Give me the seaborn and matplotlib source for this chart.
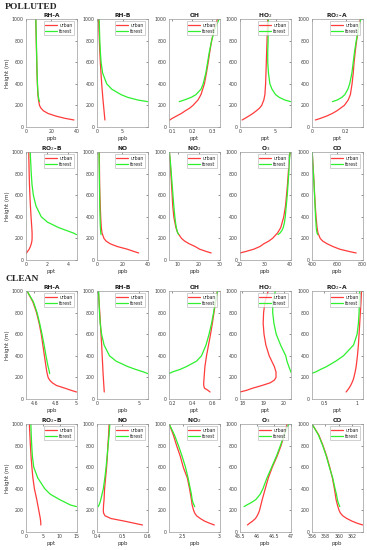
import matplotlib
matplotlib.use("Agg")
import matplotlib.pyplot as plt
import seaborn as sns

sns.set_style("white")
plt.rcParams["font.family"] = ["DejaVu Sans"]

RED = "#ff3b3b"
GREEN = "#2ef02e"
EDGE = "#9a9a9a"

# heights (m) of the two profiles
H_URBAN = [65, 80, 100, 125, 150, 175, 200, 250, 300, 400, 500, 600, 700, 800, 900, 1000]
H_FOREST = [235, 250, 275, 300, 350, 400, 500, 600, 700, 800, 900, 1000]

TITLES = ["RH-A", "RH-B", "OH", "HO$_2$", "RO$_2$-A",
          "RO$_2$-B", "NO", "NO$_2$", "O$_3$", "CO"]
UNITS = ["ppb", "ppb", "ppt", "ppt", "ppt",
         "ppt", "ppb", "ppb", "ppb", "ppb"]

# ---- polluted case ----
pol_urban = [
    [38, 31, 24, 17.5, 13.8, 11.8, 10.7, 9.9, 9.4, 9.0, 8.7, 8.5, 8.3, 8.1, 7.9, 7.7],
    [1.55, 1.52, 1.48, 1.43, 1.38, 1.33, 1.28, 1.18, 1.09, 0.92, 0.78, 0.65, 0.55, 0.46, 0.38, 0.32],
    [0.088, 0.10, 0.12, 0.145, 0.165, 0.187, 0.203, 0.228, 0.243, 0.26, 0.27, 0.279, 0.287, 0.296, 0.308, 0.325],
    [0.3, 0.7, 1.2, 1.8, 2.3, 2.75, 3.05, 3.35, 3.5, 3.6, 3.65, 3.7, 3.75, 3.8, 3.85, 3.9],
    [0.02, 0.05, 0.085, 0.12, 0.148, 0.17, 0.192, 0.215, 0.228, 0.238, 0.245, 0.25, 0.257, 0.265, 0.275, 0.287],
    [0.05, 0.15, 0.3, 0.42, 0.5, 0.56, 0.58, 0.58, 0.55, 0.48, 0.42, 0.37, 0.33, 0.3, 0.28, 0.26],
    [33, 29, 24, 16, 10.5, 7.2, 5.5, 4.0, 3.4, 2.9, 2.6, 2.3, 2.1, 2.0, 1.9, 1.8],
    [26, 23.5, 20.5, 18.3, 15.5, 13.3, 11.8, 10.0, 9.1, 8.1, 7.6, 7.3, 7.0, 6.7, 6.4, 6.0],
    [20, 22.5, 25.5, 28, 29.5, 31.5, 33, 35, 36.3, 37.5, 38.2, 38.6, 39, 39.3, 39.6, 40],
    [750, 690, 620, 565, 520, 485, 465, 447, 440, 432, 426, 421, 417, 412, 407, 402],
]
pol_forest = [
    [10.8, 10.3, 9.9, 9.6, 9.3, 9.1, 8.8, 8.6, 8.4, 8.2, 8.0, 7.8],
    [9.9, 8.0, 6.0, 4.7, 2.9, 1.9, 1.1, 0.8, 0.65, 0.55, 0.48, 0.42],
    [0.135, 0.16, 0.195, 0.218, 0.243, 0.254, 0.267, 0.276, 0.285, 0.296, 0.31, 0.333],
    [7.1, 6.3, 5.5, 5.0, 4.5, 4.2, 4.0, 3.9, 3.9, 3.95, 3.97, 4.0],
    [0.122, 0.15, 0.178, 0.195, 0.213, 0.224, 0.237, 0.245, 0.253, 0.263, 0.275, 0.29],
    [4.8, 4.5, 3.8, 3.1, 2.05, 1.45, 0.95, 0.7, 0.57, 0.5, 0.45, 0.4],
    [3.2, 3.0, 2.8, 2.7, 2.5, 2.4, 2.2, 2.1, 1.95, 1.85, 1.7, 1.6],
    [10.5, 10.0, 9.6, 9.3, 8.9, 8.6, 8.1, 7.7, 7.3, 6.9, 6.5, 6.0],
    [35.2, 36, 36.8, 37.3, 37.8, 38.1, 38.5, 38.9, 39.2, 39.5, 39.7, 40],
    [445, 440, 436, 434, 431, 428, 424, 420, 416, 411, 406, 402],
]
pol_xlim = [(0, 40), (0, 9.9), (0.084, 0.335), (0, 7.1), (0, 0.3),
            (0, 4.8), (0, 40), (5.8, 30), (20, 40.2), (400, 800)]
pol_xticks = [[0, 20, 40], [0, 5], [0.1, 0.2, 0.3], [0, 5], [0, 0.2],
              [0, 2, 4], [0, 20, 40], [10, 20, 30], [20, 30, 40], [400, 600, 800]]

# ---- clean case ----
cln_urban = [
    [5.0, 4.95, 4.89, 4.81, 4.77, 4.745, 4.73, 4.718, 4.71, 4.695, 4.68, 4.665, 4.645, 4.62, 4.585, 4.53],
    [0.87, 0.86, 0.84, 0.82, 0.8, 0.78, 0.76, 0.72, 0.69, 0.62, 0.56, 0.48, 0.41, 0.33, 0.25, 0.16],
    [0.575, 0.555, 0.52, 0.512, 0.512, 0.514, 0.516, 0.52, 0.524, 0.54, 0.56, 0.58, 0.598, 0.614, 0.63, 0.648],
    [17.89, 18.2, 18.5, 18.95, 19.35, 19.55, 19.63, 19.63, 19.55, 19.3, 19.14, 19.05, 19.01, 19.03, 19.1, 19.25],
    [0.84, 0.86, 0.885, 0.91, 0.93, 0.948, 0.96, 0.98, 0.995, 1.015, 1.03, 1.04, 1.05, 1.06, 1.07, 1.077],
    [4.4, 4.4, 4.35, 4.25, 4.1, 3.95, 3.8, 3.5, 3.2, 2.5, 2.05, 1.75, 1.5, 1.3, 1.15, 1.0],
    [0.58, 0.55, 0.51, 0.455, 0.432, 0.426, 0.425, 0.426, 0.428, 0.43, 0.434, 0.438, 0.441, 0.443, 0.446, 0.448],
    [2.93, 2.87, 2.8, 2.74, 2.69, 2.665, 2.65, 2.63, 2.62, 2.595, 2.565, 2.51, 2.47, 2.42, 2.375, 2.32],
    [45.72, 45.78, 45.87, 45.96, 46.01, 46.05, 46.08, 46.12, 46.16, 46.25, 46.34, 46.46, 46.6, 46.72, 46.81, 46.9],
    [363.6, 362.8, 362.0, 361.2, 360.6, 360.25, 360.05, 359.8, 359.6, 359.35, 359.05, 358.65, 358.2, 357.65, 357.0, 356.0],
]
cln_forest = [
    [4.745, 4.742, 4.737, 4.73, 4.72, 4.71, 4.692, 4.672, 4.65, 4.625, 4.59, 4.53],
    [6.1, 5.6, 4.6, 3.7, 2.3, 1.5, 0.85, 0.55, 0.38, 0.3, 0.24, 0.2],
    [0.167, 0.2, 0.28, 0.34, 0.44, 0.49, 0.535, 0.565, 0.59, 0.61, 0.628, 0.65],
    [20.4, 20.35, 20.3, 20.25, 20.16, 20.1, 19.85, 19.64, 19.53, 19.47, 19.47, 19.6],
    [0.3, 0.37, 0.45, 0.54, 0.68, 0.8, 0.955, 1.01, 1.03, 1.04, 1.045, 1.05],
    [15, 13.2, 11.6, 10.0, 7.2, 5.6, 3.5, 2.3, 1.9, 1.7, 1.55, 1.45],
    [0.405, 0.408, 0.412, 0.415, 0.42, 0.425, 0.431, 0.436, 0.44, 0.444, 0.448, 0.451],
    [2.665, 2.655, 2.64, 2.63, 2.62, 2.605, 2.575, 2.54, 2.495, 2.445, 2.39, 2.32],
    [45.62, 45.7, 45.85, 45.97, 46.1, 46.18, 46.3, 46.44, 46.58, 46.7, 46.81, 46.95],
    [360.15, 360.05, 359.9, 359.8, 359.65, 359.45, 359.1, 358.6, 358.15, 357.6, 356.95, 356.0],
]
cln_xlim = [(4.52, 5.0), (0, 6.06), (0.167, 0.669), (17.89, 20.33), (0.315, 1.093),
            (0, 15), (0.4, 0.6), (2.317, 3.0), (45.5, 47.0), (356, 363.55)]
cln_xticks = [[4.6, 4.8, 5], [0, 5], [0.2, 0.4, 0.6], [18, 19, 20], [0.5, 1],
              [0, 5, 10, 15], [0.4, 0.5, 0.6], [2.5, 3], [45.5, 46, 46.5, 47], [356, 358, 360, 362]]

W, H = 367, 550
COL_LEFT = [26, 97, 169, 240, 312]
ROW_TOP = [19, 152, 291, 424]
AX_W, AX_H = 50.5, 108


def fmt(v):
    return f"{v:g}"


def draw_panel(ax, urban, forest, title, unit, xlim, xticks, first_col):
    sns.lineplot(x=urban, y=H_URBAN, sort=False, estimator=None, color=RED,
                 linewidth=0.9, ax=ax, label="urban")
    sns.lineplot(x=forest, y=H_FOREST, sort=False, estimator=None, color=GREEN,
                 linewidth=0.9, ax=ax, label="forest")
    ax.set_xlim(*xlim)
    ax.set_ylim(0, 1000)
    ax.set_xticks(xticks)
    ax.set_xticklabels([fmt(t) for t in xticks])
    ax.set_yticks(range(0, 1001, 200))
    ax.tick_params(direction="in", length=1.5, width=0.4, labelsize=3.4,
                   colors="#404040", pad=1.5, top=True, right=True)
    for s in ax.spines.values():
        s.set_color(EDGE)
        s.set_linewidth(0.5)
    ax.set_title(title, fontsize=4.3, fontweight="bold", pad=1.5, color="#222222")
    ax.set_xlabel(unit, fontsize=4, labelpad=1.5, color="#333333")
    ax.set_ylabel("Height (m)" if first_col else "", fontsize=4, labelpad=1.5,
                  color="#333333")
    leg = ax.legend(loc="upper right", fontsize=3.3, handlelength=2.6,
                    frameon=True, fancybox=False, borderpad=0.35,
                    labelspacing=0.2, handletextpad=0.5, borderaxespad=0.5)
    leg.get_frame().set_edgecolor(EDGE)
    leg.get_frame().set_linewidth(0.4)


fig = plt.figure(figsize=(W / 100, H / 100), dpi=100)

cases = [(pol_urban, pol_forest, pol_xlim, pol_xticks, 0),
         (cln_urban, cln_forest, cln_xlim, cln_xticks, 2)]
for urb, fst, xl, xt, row0 in cases:
    for i in range(10):
        r = row0 + i // 5
        c = i % 5
        rect = [COL_LEFT[c] / W, 1 - (ROW_TOP[r] + AX_H) / H, AX_W / W, AX_H / H]
        ax = fig.add_axes(rect)
        draw_panel(ax, urb[i], fst[i], TITLES[i], UNITS[i], xl[i], xt[i], c == 0)

fig.text(5 / W, 1 - 7 / H, "POLLUTED", family="Liberation Serif", fontweight="bold",
         fontsize=6.8, va="center", ha="left")
fig.text(5 / W, 1 - 279 / H, "CLEAN", family="Liberation Serif", fontweight="bold",
         fontsize=6.8, va="center", ha="left")

fig.savefig("out.png", dpi=100)
